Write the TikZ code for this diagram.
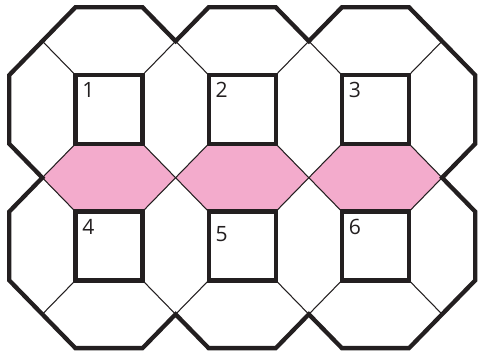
\documentclass[tikz,border=0pt]{standalone}
\usepackage{fontspec}
\setmainfont{Open Sans}
\usetikzlibrary{backgrounds}
\definecolor{hexpink}{RGB}{243,171,204}
\definecolor{ink}{RGB}{35,31,32}
\begin{document}
\begin{tikzpicture}[x=0.01974cm,y=-0.02024cm,color=ink,line width=2.45pt]
\tikzset{sq/.style={draw,minimum width=1.342cm,minimum height=1.376cm,inner sep=0pt,outer sep=0pt}, num/.style={font=\fontsize{12}{14}\selectfont,inner sep=0pt}, rib/.style={line width=0.6pt}}
\useasboundingbox (-110.4,-108.2) rectangle (374.9,241.6);
\node[sq] (s1) at (0,0) {};
\node[sq] (s2) at (135,0) {};
\node[sq] (s3) at (270,0) {};
\node[sq] (s4) at (0,135) {};
\node[sq] (s5) at (135,135) {};
\node[sq] (s6) at (270,135) {};
\node[num] (n1) at ([xshift=0.26cm,yshift=-0.30cm]s1.north west) {1};
\node[num] (n2) at ([xshift=0.26cm,yshift=-0.30cm]s2.north west) {2};
\node[num] (n3) at ([xshift=0.26cm,yshift=-0.30cm]s3.north west) {3};
\node[num] (n4) at ([xshift=0.26cm,yshift=-0.30cm]s4.north west) {4};
\node[num] (n5) at ([xshift=0.26cm,yshift=-0.45cm]s5.north west) {5};
\node[num] (n6) at ([xshift=0.26cm,yshift=-0.30cm]s6.north west) {6};
% crossings of the octagon sides
\coordinate (ta) at (-67.5,-67.5);
\coordinate (tb) at (67.5,-67.5);
\coordinate (tc) at (202.5,-67.5);
\coordinate (td) at (337.5,-67.5);
\coordinate (ma) at (-67.5,67.5);
\coordinate (mb) at (67.5,67.5);
\coordinate (mc) at (202.5,67.5);
\coordinate (md) at (337.5,67.5);
\coordinate (ba) at (-67.5,202.5);
\coordinate (bb) at (67.5,202.5);
\coordinate (bc) at (202.5,202.5);
\coordinate (bd) at (337.5,202.5);
\begin{scope}[on background layer]
\fill[hexpink] (s1.south west) -- (s1.south east) -- (mb) -- (s4.north east) -- (s4.north west) -- (ma) -- cycle;
\fill[hexpink] (s2.south west) -- (s2.south east) -- (mc) -- (s5.north east) -- (s5.north west) -- (mb) -- cycle;
\fill[hexpink] (s3.south west) -- (s3.south east) -- (md) -- (s6.north east) -- (s6.north west) -- (mc) -- cycle;
\end{scope}
\draw[rib] (s1.north west) -- (ta) (s1.north east) -- (tb) (s1.south east) -- (mb) (s1.south west) -- (ma);
\draw[rib] (s2.north west) -- (tb) (s2.north east) -- (tc) (s2.south east) -- (mc) (s2.south west) -- (mb);
\draw[rib] (s3.north west) -- (tc) (s3.north east) -- (td) (s3.south east) -- (md) (s3.south west) -- (mc);
\draw[rib] (s4.north west) -- (ma) (s4.north east) -- (mb) (s4.south east) -- (bb) (s4.south west) -- (ba);
\draw[rib] (s5.north west) -- (mb) (s5.north east) -- (mc) (s5.south east) -- (bc) (s5.south west) -- (bb);
\draw[rib] (s6.north west) -- (mc) (s6.north east) -- (md) (s6.south east) -- (bd) (s6.south west) -- (bc);
% outer rim of the octagons
\draw (-34,-101) -- (34,-101) -- (tb) -- (101,-101) -- (169,-101) -- (tc) -- (236,-101) -- (304,-101) -- (371,-34) -- (371,34) -- (md) -- (371,101) -- (371,169) -- (304,236) -- (236,236) -- (bc) -- (169,236) -- (101,236) -- (bb) -- (34,236) -- (-34,236) -- (-101,169) -- (-101,101) -- (ma) -- (-101,34) -- (-101,-34) -- cycle;
\end{tikzpicture}
\end{document}
